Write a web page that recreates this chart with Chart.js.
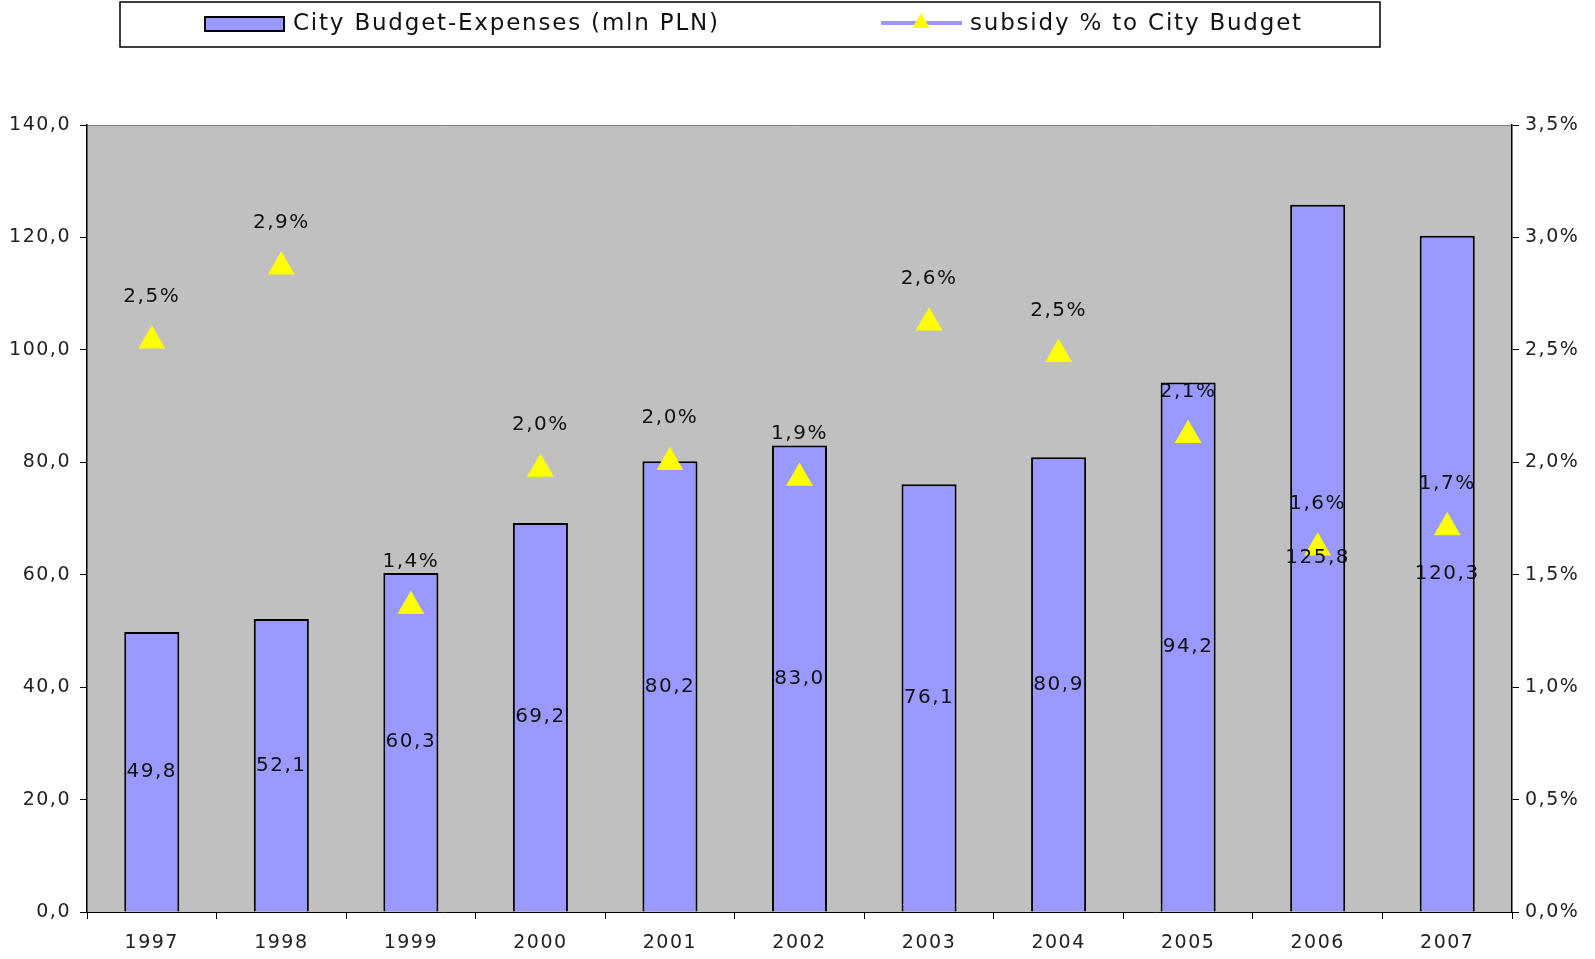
<!DOCTYPE html>
<html lang="en">
<head>
  <meta charset="UTF-8">
  <title>City Budget - Expenses and subsidy</title>
  <script src="https://cdn.jsdelivr.net/npm/chart.js"></script>
  <style>
    html, body { margin: 0; padding: 0; background: #fff; }
    #wrap { width: 1595px; height: 959px; position: relative; }
  </style>
</head>
<body>
  <div id="wrap"><canvas id="chart"></canvas></div>

  <script>
    // chart data
    const years = ['1997', '1998', '1999', '2000', '2001', '2002', '2003', '2004', '2005', '2006', '2007'];
    const expenses = [49.8, 52.1, 60.3, 69.2, 80.2, 83.0, 76.1, 80.9, 94.2, 125.8, 120.3];
    const subsidyPct = [2.54, 2.87, 1.36, 1.97, 2.0, 1.93, 2.62, 2.48, 2.12, 1.62, 1.71];
    const seriesNames = ['City Budget-Expenses (mln PLN)', 'subsidy % to City Budget'];

    const FONT = 'DejaVu Sans';
    const BAR_FILL = '#9999FF';
    const TRI_FILL = '#FFFF00';

    const comma = (v, d) => v.toFixed(d).replace('.', ',');

    // plot background, text spacing
    const backdrop = {
      id: 'backdrop',
      beforeLayout(chart) { chart.ctx.letterSpacing = '1.5px'; },
      beforeDraw(chart) {
        const { ctx, chartArea: a } = chart;
        ctx.letterSpacing = '1.5px';
        ctx.save();
        ctx.fillStyle = '#C0C0C0';
        ctx.fillRect(a.left, a.top, a.right - a.left, a.bottom - a.top);
        ctx.strokeStyle = '#808080';
        ctx.lineWidth = 1;
        ctx.beginPath();
        ctx.moveTo(a.left, a.top + 0.5);
        ctx.lineTo(a.right, a.top + 0.5);
        ctx.stroke();
        ctx.restore();
      }
    };

    // value labels: bars in the middle, percents above the triangles
    const valueLabels = {
      id: 'valueLabels',
      afterDatasetsDraw(chart) {
        const { ctx } = chart;
        ctx.save();
        ctx.font = '20px "' + FONT + '"';
        ctx.fillStyle = '#111';
        ctx.textAlign = 'center';
        ctx.textBaseline = 'middle';
        chart.getDatasetMeta(0).data.forEach((bar, i) => {
          ctx.fillText(comma(expenses[i], 1), bar.x, (bar.y + bar.base) / 2);
        });
        chart.getDatasetMeta(1).data.forEach((pt, i) => {
          ctx.fillText(comma(subsidyPct[i], 1) + '%', pt.x, pt.y - 44);
        });
        ctx.restore();
      }
    };

    // boxed legend at the top
    const boxLegend = {
      id: 'boxLegend',
      afterDraw(chart) {
        const { ctx } = chart;
        ctx.save();
        ctx.strokeStyle = '#000';
        ctx.lineWidth = 1.5;
        ctx.strokeRect(120, 2, 1260, 45);

        ctx.fillStyle = BAR_FILL;
        ctx.fillRect(205, 17, 79, 14);
        ctx.lineWidth = 2;
        ctx.strokeRect(205, 17, 79, 14);

        ctx.strokeStyle = BAR_FILL;
        ctx.lineWidth = 4;
        ctx.beginPath();
        ctx.moveTo(881, 23);
        ctx.lineTo(962, 23);
        ctx.stroke();
        ctx.fillStyle = TRI_FILL;
        const r = 10;
        ctx.beginPath();
        ctx.moveTo(921, 23 - r);
        ctx.lineTo(921 + r * 0.866, 23 + r / 2);
        ctx.lineTo(921 - r * 0.866, 23 + r / 2);
        ctx.closePath();
        ctx.fill();

        ctx.fillStyle = '#111';
        ctx.font = '23px "' + FONT + '"';
        ctx.letterSpacing = '1.8px';
        ctx.textBaseline = 'middle';
        ctx.textAlign = 'left';
        ctx.fillText(seriesNames[0], 293, 24);
        ctx.fillText(seriesNames[1], 970, 24);
        ctx.restore();
      }
    };

    const tickFont = { family: FONT, size: 19 };

    new Chart(document.getElementById('chart'), {
      data: {
        labels: years,
        datasets: [
          {
            type: 'bar',
            label: seriesNames[0],
            data: expenses,
            yAxisID: 'y',
            backgroundColor: BAR_FILL,
            borderColor: '#000',
            borderWidth: 2,
            barPercentage: 0.425,
            categoryPercentage: 1,
            order: 2
          },
          {
            type: 'line',
            label: seriesNames[1],
            data: subsidyPct,
            yAxisID: 'y2',
            showLine: false,
            pointStyle: 'triangle',
            pointRadius: 15.5,
            pointBackgroundColor: TRI_FILL,
            pointBorderWidth: 0,
            borderColor: BAR_FILL,
            order: 1
          }
        ]
      },
      options: {
        responsive: true,
        maintainAspectRatio: false,
        animation: false,
        layout: { padding: { top: 125, left: 0, right: 0, bottom: 0 } },
        plugins: {
          legend: { display: false },
          tooltip: { enabled: false }
        },
        scales: {
          x: {
            grid: { offset: true, drawOnChartArea: false, drawTicks: true, tickLength: 7, color: '#000' },
            border: { color: '#000', width: 1 },
            ticks: { font: tickFont, color: '#222', padding: 13, maxRotation: 0 },
            afterFit: s => { s.height = 47; }
          },
          y: {
            position: 'left',
            min: 0,
            max: 140,
            grid: { drawOnChartArea: false, tickLength: 7, color: '#000' },
            border: { color: '#000', width: 1.5 },
            ticks: { stepSize: 20, font: tickFont, color: '#222', padding: 9, callback: v => comma(v, 1) },
            afterFit: s => { s.width = 87; }
          },
          y2: {
            position: 'right',
            min: 0,
            max: 3.5,
            grid: { drawOnChartArea: false, tickLength: 7, color: '#000' },
            border: { color: '#000', width: 1.5 },
            ticks: { stepSize: 0.5, font: tickFont, color: '#222', padding: 6, callback: v => comma(v, 1) + '%' },
            afterFit: s => { s.width = 83; }
          }
        }
      },
      plugins: [backdrop, valueLabels, boxLegend]
    });
  </script>
</body>
</html>
